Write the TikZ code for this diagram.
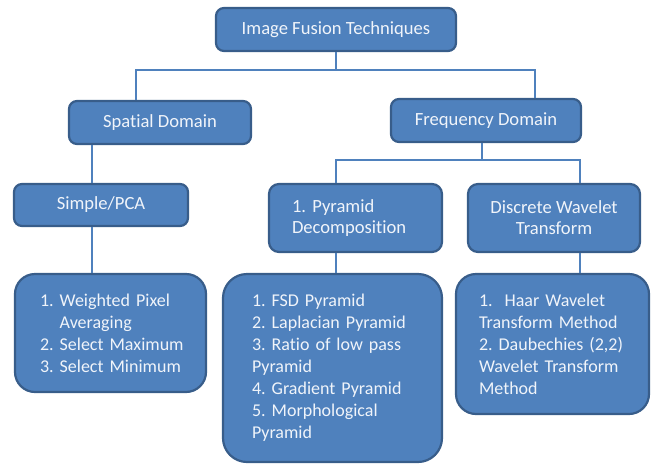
\documentclass[tikz,border=0pt]{standalone}
\usepackage{fontspec}
\setmainfont[Ligatures=NoCommon]{Carlito}
\frenchspacing
\hyphenpenalty=10000
\exhyphenpenalty=10000
\definecolor{boxfill}{RGB}{79,129,189}
\definecolor{boxline}{RGB}{56,93,138}
\definecolor{txt}{RGB}{240,244,250}
\begin{document}
\begin{tikzpicture}[x=1pt,y=-1pt,
  box/.style={draw=boxline, line width=2.2pt, fill=boxfill, text=txt, rounded corners=8pt,
    inner sep=0pt, font=\fontsize{18.6}{21}\selectfont, align=center},
  listbox/.style={box, rounded corners=20pt, align=left, font=\fontsize{18}{22}\selectfont},
  conn/.style={draw=boxfill, line width=1.2pt}]
\useasboundingbox (0,0) rectangle (651,467);
\node[box, minimum width=240pt, minimum height=43pt] (top) at (336,29.5) {Image Fusion Techniques};
\node[box, minimum width=182pt, minimum height=43pt] (spatial) at (160,122.5) {Spatial Domain};
\node[box, minimum width=190pt, minimum height=43pt] (freq) at (486,120.5) {Frequency Domain};
\node[box, minimum width=174pt, minimum height=42pt] (simple) at (101,205) {Simple/PCA};
\node[box, rounded corners=10pt, minimum width=173pt, minimum height=68pt, text width=127pt, align=left] (pyr) at (355.5,218) {1. Pyramid\\Decomposition};
\node[box, rounded corners=10pt, minimum width=172pt, minimum height=68pt] (dwt) at (554,218) {Discrete Wavelet\\Transform};
\node[listbox, minimum width=191pt, minimum height=118pt, text width=141pt] (l1) at (110.5,333) {1.~Weighted~Pixel\\\hphantom{1. }Averaging\\2.~Select~Maximum\\3.~Select~Minimum};
\node[listbox, rounded corners=24pt, minimum width=219pt, minimum height=188pt, text width=161pt] (l2) at (332.5,368) {1. FSD Pyramid\\2. Laplacian Pyramid\\3. Ratio of low pass\\Pyramid\\4. Gradient Pyramid\\5. Morphological\\Pyramid};
\node[listbox, minimum width=193pt, minimum height=140pt, text width=147pt] (l3) at (552.5,344) {1.~~Haar Wavelet\\Transform Method\\2.~Daubechies~(2,2)\\Wavelet Transform\\Method};
\coordinate (j1) at (136,70);
\coordinate (j2) at (535,70);
\coordinate (s1) at (92,0);
\coordinate (f0) at (482,160);
\coordinate (f1) at (336,160);
\coordinate (f2) at (580,160);
\draw[conn] (top.south) -- (top.south |- j1);
\draw[conn] (spatial.north -| j1) |- (j2) -- (freq.north -| j2);
\draw[conn] (spatial.south -| s1) -- (simple.north -| s1);
\draw[conn] (simple.south -| s1) -- (l1.north -| s1);
\draw[conn] (freq.south -| f0) -- (f0);
\draw[conn] (pyr.north -| f1) |- (f2) -- (dwt.north -| f2);
\draw[conn] (pyr.south -| f1) -- (l2.north -| f1);
\draw[conn] (dwt.south -| f2) -- (l3.north -| f2);
\end{tikzpicture}
\end{document}
